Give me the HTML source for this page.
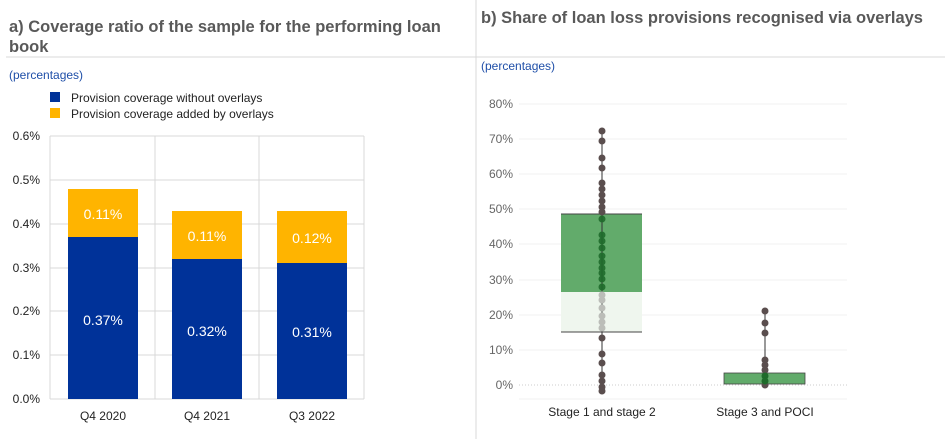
<!DOCTYPE html>
<html><head><meta charset="utf-8"><style>
body{margin:0;background:#fff;}
svg{display:block;font-family:"Liberation Sans",Arial,sans-serif;}
</style></head><body>
<svg width="945" height="439" viewBox="0 0 945 439">
<line x1="6" y1="57" x2="945" y2="57" stroke="#d9d9d9"/>
<line x1="476" y1="0" x2="476" y2="439" stroke="#d9d9d9"/>
<text x="9" y="32" font-size="16.5" font-weight="bold" fill="#595959">a) Coverage ratio of the sample for the performing loan</text>
<text x="9" y="52" font-size="16.5" font-weight="bold" fill="#595959">book</text>
<text x="481" y="23" font-size="16.5" font-weight="bold" fill="#595959">b) Share of loan loss provisions recognised via overlays</text>
<text x="9" y="79" font-size="12" fill="#1f4fa8">(percentages)</text>
<text x="481" y="70" font-size="12" fill="#1f4fa8">(percentages)</text>
<rect x="50" y="92" width="10" height="10" fill="#003299"/>
<rect x="50" y="108" width="10" height="10" fill="#ffb400"/>
<text x="71" y="102" font-size="12" fill="#222">Provision coverage without overlays</text>
<text x="71" y="118" font-size="12" fill="#222">Provision coverage added by overlays</text>
<!-- left chart grid -->
<g stroke="#d9d9d9" stroke-width="1">
<line x1="50" y1="136" x2="364" y2="136"/><line x1="50" y1="180" x2="364" y2="180"/>
<line x1="50" y1="224" x2="364" y2="224"/><line x1="50" y1="268" x2="364" y2="268"/>
<line x1="50" y1="311" x2="364" y2="311"/><line x1="50" y1="355" x2="364" y2="355"/>
<line x1="50" y1="399" x2="364" y2="399"/>
<line x1="50" y1="136" x2="50" y2="399"/><line x1="155" y1="136" x2="155" y2="399"/>
<line x1="259" y1="136" x2="259" y2="399"/><line x1="364" y1="136" x2="364" y2="399"/>
</g>
<g font-size="12" fill="#222" text-anchor="end">
<text x="40" y="140">0.6%</text><text x="40" y="184">0.5%</text><text x="40" y="228">0.4%</text>
<text x="40" y="272">0.3%</text><text x="40" y="315">0.2%</text><text x="40" y="359">0.1%</text><text x="40" y="403">0.0%</text>
</g>
<rect x="68" y="189" width="70" height="48" fill="#ffb400"/><rect x="68" y="237" width="70" height="162" fill="#003299"/>
<rect x="172" y="211" width="70" height="48" fill="#ffb400"/><rect x="172" y="259" width="70" height="140" fill="#003299"/>
<rect x="277" y="211" width="70" height="52" fill="#ffb400"/><rect x="277" y="263" width="70" height="136" fill="#003299"/>
<g font-size="14" fill="#fff" text-anchor="middle">
<text x="103" y="219">0.11%</text><text x="103" y="325">0.37%</text>
<text x="207" y="241">0.11%</text><text x="207" y="336">0.32%</text>
<text x="312" y="243">0.12%</text><text x="312" y="337">0.31%</text>
</g>
<g font-size="12" fill="#222" text-anchor="middle">
<text x="103" y="420">Q4 2020</text><text x="207" y="420">Q4 2021</text><text x="312" y="420">Q3 2022</text>
</g>
<!-- right chart -->
<g stroke="#f0f0f0">
<line x1="519" y1="104" x2="847" y2="104"/><line x1="519" y1="139" x2="847" y2="139"/>
<line x1="519" y1="174" x2="847" y2="174"/><line x1="519" y1="209" x2="847" y2="209"/>
<line x1="519" y1="244" x2="847" y2="244"/><line x1="519" y1="280" x2="847" y2="280"/>
<line x1="519" y1="315" x2="847" y2="315"/><line x1="519" y1="350" x2="847" y2="350"/>
<line x1="519" y1="399" x2="847" y2="399"/>
</g>
<line x1="519" y1="385" x2="847" y2="385" stroke="#ccc" stroke-dasharray="1,2"/>
<g font-size="12" fill="#666" text-anchor="end">
<text x="513" y="108">80%</text><text x="513" y="143">70%</text><text x="513" y="178">60%</text>
<text x="513" y="213">50%</text><text x="513" y="248">40%</text><text x="513" y="284">30%</text>
<text x="513" y="319">20%</text><text x="513" y="354">10%</text><text x="513" y="389">0%</text>
</g>
<rect x="561" y="214" width="81" height="78" fill="#62ab6b"/>
<rect x="561" y="292" width="81" height="40" fill="#eff6ee"/>
<line x1="561" y1="214" x2="642" y2="214" stroke="#444"/>
<line x1="561" y1="332" x2="642" y2="332" stroke="#444"/>
<line x1="602" y1="130" x2="602" y2="392" stroke="#333"/>
<g fill="#5a4e4e">
<circle cx="602" cy="131" r="3.5"/><circle cx="602" cy="141" r="3.5"/><circle cx="602" cy="158" r="3.5"/>
<circle cx="602" cy="168" r="3.5"/><circle cx="602" cy="183" r="3.5"/><circle cx="602" cy="189" r="3.5"/>
<circle cx="602" cy="195" r="3.5"/><circle cx="602" cy="201" r="3.5"/><circle cx="602" cy="207" r="3.5"/>
<circle cx="602" cy="212" r="3.5"/>
<circle cx="602" cy="338" r="3.5"/><circle cx="602" cy="354" r="3.5"/><circle cx="602" cy="363" r="3.5"/>
<circle cx="602" cy="375" r="3.5"/><circle cx="602" cy="381" r="3.5"/><circle cx="602" cy="387" r="3.5"/><circle cx="602" cy="391" r="3.5"/>
</g>
<g fill="#1f6b2b" opacity="0.9">
<circle cx="602" cy="219" r="3.5"/><circle cx="602" cy="235" r="3.5"/><circle cx="602" cy="241" r="3.5"/>
<circle cx="602" cy="248" r="3.5"/><circle cx="602" cy="256" r="3.5"/><circle cx="602" cy="262" r="3.5"/>
<circle cx="602" cy="268" r="3.5"/><circle cx="602" cy="273" r="3.5"/><circle cx="602" cy="279" r="3.5"/><circle cx="602" cy="287" r="3.5"/>
</g>
<g fill="#bbbdb8">
<circle cx="602" cy="295" r="3.5"/><circle cx="602" cy="300" r="3.5"/><circle cx="602" cy="308" r="3.5"/>
<circle cx="602" cy="316" r="3.5"/><circle cx="602" cy="322" r="3.5"/><circle cx="602" cy="328" r="3.5"/>
</g>
<line x1="765" y1="311" x2="765" y2="385" stroke="#333"/>
<rect x="724" y="373" width="81" height="11" fill="#62ab6b" stroke="#444" stroke-width="0.8"/>
<g fill="#5a4e4e">
<circle cx="765" cy="311" r="3.5"/><circle cx="765" cy="323" r="3.5"/><circle cx="765" cy="333" r="3.5"/>
<circle cx="765" cy="360" r="3.5"/><circle cx="765" cy="365" r="3.5"/><circle cx="765" cy="370" r="3.5"/>
<circle cx="765" cy="385" r="3.5"/>
</g>
<g fill="#1f6b2b"><circle cx="765" cy="376" r="3.5"/><circle cx="765" cy="381" r="3.5"/></g>
<g font-size="12" fill="#222" text-anchor="middle">
<text x="602" y="416">Stage 1 and stage 2</text><text x="765" y="416">Stage 3 and POCI</text>
</g>
</svg>
</body></html>
